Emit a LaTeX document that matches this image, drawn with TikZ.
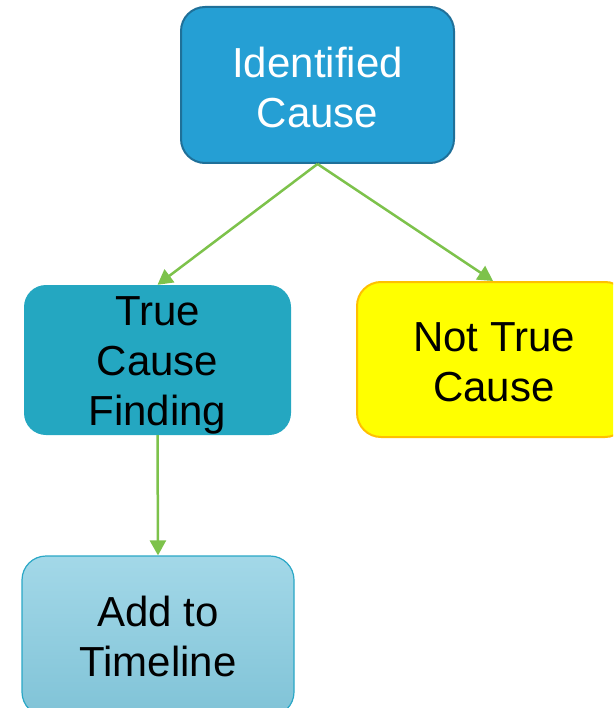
\documentclass[tikz,border=0pt]{standalone}
\usepackage{fontspec}
\setmainfont{Liberation Sans}
\usetikzlibrary{arrows.meta}
\definecolor{causeblue}{HTML}{259FD4}
\definecolor{causeedge}{HTML}{1F7099}
\definecolor{findteal}{HTML}{24A7C1}
\definecolor{notyellow}{HTML}{FFFF00}
\definecolor{notedge}{HTML}{FFC000}
\definecolor{tltop}{HTML}{A3D8E8}
\definecolor{tlbottom}{HTML}{80C3D7}
\definecolor{tledge}{HTML}{2AA7C6}
\definecolor{linkgreen}{HTML}{7DC24B}
\tikzset{
  box/.style={rectangle, rounded corners=24pt, inner sep=0pt},
  label text/.style={align=center, font=\fontsize{42}{50}\selectfont, inner sep=0pt},
  link/.style={draw=linkgreen, line width=2.5pt, -{Triangle[length=15pt,width=16pt]}}
}
\begin{document}
\begin{tikzpicture}[x=1pt,y=-1pt]
  \useasboundingbox (0,0) rectangle (613,708);
  \clip (0,0) rectangle (613,708);
  % boxes
  \node[box, fill=causeblue, draw=causeedge, line width=2pt,
        minimum width=273pt, minimum height=156pt] (cause) at (317.5,85) {};
  \node[box, rounded corners=22pt, fill=findteal,
        minimum width=267pt, minimum height=150pt] (finding) at (157.5,360) {};
  \node[box, fill=notyellow, draw=notedge, line width=2pt,
        minimum width=272pt, minimum height=155pt] (nottrue) at (493,359.5) {};
  \node[box, top color=tltop, bottom color=tlbottom, draw=tledge, line width=1.2pt,
        minimum width=272pt, minimum height=160pt] (timeline) at (158,636) {};
  % labels
  \node[label text, text=white] (causetext) at (317.5,87) {Identified\\Cause};
  \node[label text] (findingtext) at (157.5,365) {True\\Cause\\Finding};
  \node[label text] (nottruetext) at (494,362) {Not True\\Cause};
  \node[label text] (timelinetext) at (158,636) {Add to\\Timeline};
  % connectors
  \draw[link] (cause.south) -- (finding.north);
  \draw[link] (cause.south) -- (nottrue.north);
  \draw[link] (finding.south) -- (timeline.north);
\end{tikzpicture}
\end{document}
